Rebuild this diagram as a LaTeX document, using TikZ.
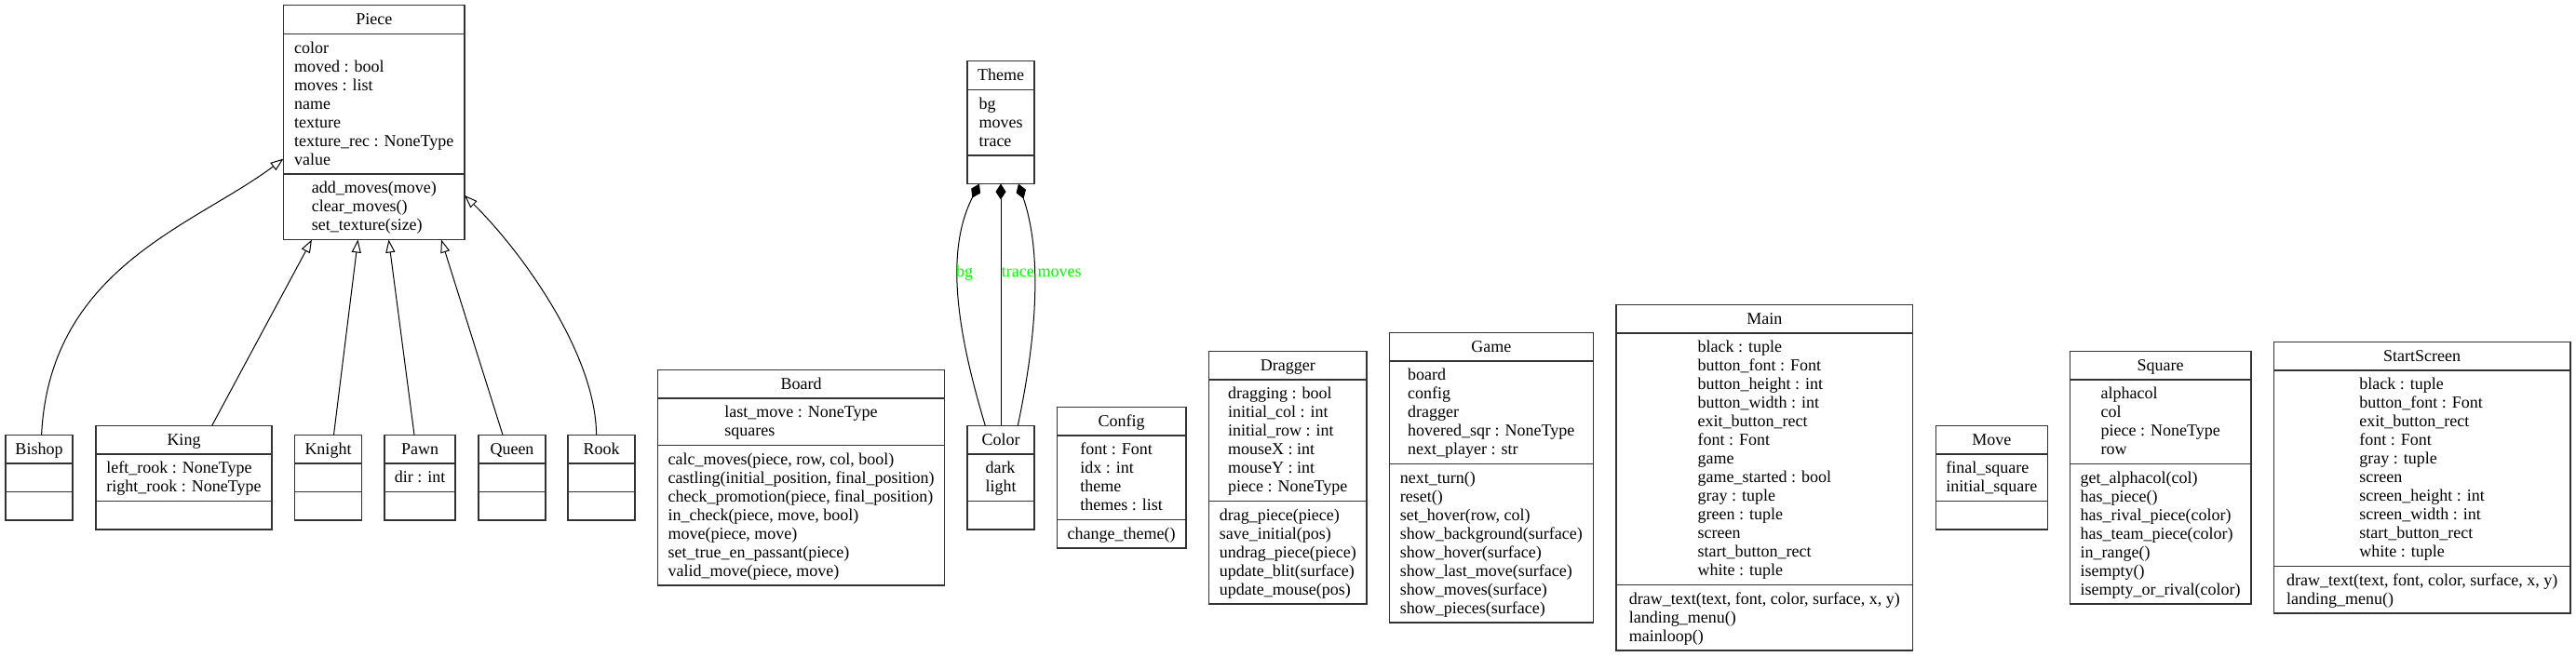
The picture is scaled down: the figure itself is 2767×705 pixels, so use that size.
\documentclass[tikz,border=0pt]{standalone}
\usepackage{fontspec}
\setmainfont{Liberation Serif}
\usetikzlibrary{arrows.meta}
\definecolor{lblgreen}{RGB}{0,255,0}
\newcommand{\ls}{\rule{0pt}{15pt}}
\tikzset{
  every node/.append style={font=\fontsize{18}{20}\selectfont},
  classbox/.style={draw=black!80, line width=1.3pt, inner sep=0pt, outer sep=0pt, anchor=north west},
  sepline/.style={draw=black!80, line width=1.3pt},
  ttl/.style={anchor=base, inner sep=0pt},
  blk/.style={anchor=north, align=left, inner sep=0pt},
  inh/.style={draw, line width=1pt, -{Triangle[open, length=14pt, width=10pt]}},
  comp/.style={draw, line width=1pt, -{Diamond[length=17pt, width=11pt]}},
  rolelbl/.style={text=lblgreen, anchor=base west, inner sep=0pt},
}
\newcommand{\umlbox}[7]{%
  \pgfmathsetmacro\umlW{#3-#2}%
  \pgfmathsetmacro\umlYh{#4+30.6}%
  \pgfmathsetmacro\umlYs{\umlYh+20*#5+10.6}%
  \pgfmathsetmacro\umlYb{\umlYs+20*#6+10.6}%
  \pgfmathsetmacro\umlH{\umlYb-#4}%
  \pgfmathsetmacro\umlXc{(#2+#3)/2}%
  \node[classbox, minimum width=\umlW pt, minimum height=\umlH pt] (#1) at (#2,#4) {};
  \draw[sepline] (#2,\umlYh) -- (#3,\umlYh);
  \draw[sepline] (#2,\umlYs) -- (#3,\umlYs);
  \node[ttl] (#1-title) at (\umlXc,#4+20.8) {#7};
}
\newcommand{\umlattrs}[2]{\node[blk] (#1-attrs) at (\umlXc,\umlYh+5.8) {\ls #2};}
\newcommand{\umlmeths}[2]{\node[blk] (#1-meths) at (\umlXc,\umlYs+5.8) {\ls #2};}
\begin{document}
\begin{tikzpicture}[x=1pt, y=-1pt]
\fill[white] (0,0) rectangle (2767,705);
\useasboundingbox (0,0) rectangle (2767,705);

% Piece
\umlbox{piece}{304.5}{499}{5.7}{7}{3}{Piece}
\umlattrs{piece}{color\\moved : bool\\moves : list\\name\\texture\\texture\_rec : NoneType\\value}
\umlmeths{piece}{add\_moves(move)\\clear\_moves()\\set\_texture(size)}

% subclasses
\umlbox{bishop}{6}{78}{467.3}{1}{1}{Bishop}
\umlbox{king}{103}{292}{457.3}{2}{1}{King}
\umlattrs{king}{left\_rook : NoneType\\right\_rook : NoneType}
\umlbox{knight}{316.5}{388.5}{467.3}{1}{1}{Knight}
\umlbox{pawn}{413}{489}{467.3}{1}{1}{Pawn}
\umlattrs{pawn}{dir : int}
\umlbox{queen}{514}{586}{467.3}{1}{1}{Queen}
\umlbox{rook}{610}{682}{467.3}{1}{1}{Rook}

% Board
\umlbox{board}{706.5}{1014.5}{397.3}{2}{7}{Board}
\umlattrs{board}{last\_move : NoneType\\squares}
\umlmeths{board}{calc\_moves(piece, row, col, bool)\\castling(initial\_position, final\_position)\\check\_promotion(piece, final\_position)\\in\_check(piece, move, bool)\\move(piece, move)\\set\_true\_en\_passant(piece)\\valid\_move(piece, move)}

% Theme and Color
\umlbox{theme}{1039}{1111}{65.7}{3}{1}{Theme}
\umlattrs{theme}{bg\\moves\\trace}
\umlbox{color}{1039}{1111}{457.3}{2}{1}{Color}
\umlattrs{color}{dark\\light}

% Config
\umlbox{config}{1135.3}{1274}{437.3}{4}{1}{Config}
\umlattrs{config}{font : Font\\idx : int\\theme\\themes : list}
\umlmeths{config}{change\_theme()}

% Dragger
\umlbox{dragger}{1298.5}{1468}{377.3}{6}{5}{Dragger}
\umlattrs{dragger}{dragging : bool\\initial\_col : int\\initial\_row : int\\mouseX : int\\mouseY : int\\piece : NoneType}
\umlmeths{dragger}{drag\_piece(piece)\\save\_initial(pos)\\undrag\_piece(piece)\\update\_blit(surface)\\update\_mouse(pos)}

% Game
\umlbox{game}{1492.3}{1711.3}{357.3}{5}{8}{Game}
\umlattrs{game}{board\\config\\dragger\\hovered\_sqr : NoneType\\next\_player : str}
\umlmeths{game}{next\_turn()\\reset()\\set\_hover(row, col)\\show\_background(surface)\\show\_hover(surface)\\show\_last\_move(surface)\\show\_moves(surface)\\show\_pieces(surface)}

% Main
\umlbox{main}{1736}{2054.7}{327.3}{13}{3}{Main}
\umlattrs{main}{black : tuple\\button\_font : Font\\button\_height : int\\button\_width : int\\exit\_button\_rect\\font : Font\\game\\game\_started : bool\\gray : tuple\\green : tuple\\screen\\start\_button\_rect\\white : tuple}
\umlmeths{main}{draw\_text(text, font, color, surface, x, y)\\landing\_menu()\\mainloop()}

% Move
\umlbox{move}{2079.3}{2199.3}{457.3}{2}{1}{Move}
\umlattrs{move}{final\_square\\initial\_square}

% Square
\umlbox{square}{2223.3}{2418}{377.3}{4}{7}{Square}
\umlattrs{square}{alphacol\\col\\piece : NoneType\\row}
\umlmeths{square}{get\_alphacol(col)\\has\_piece()\\has\_rival\_piece(color)\\has\_team\_piece(color)\\in\_range()\\isempty()\\isempty\_or\_rival(color)}

% StartScreen
\umlbox{startscreen}{2442.3}{2761}{367.3}{10}{2}{StartScreen}
\umlattrs{startscreen}{black : tuple\\button\_font : Font\\exit\_button\_rect\\font : Font\\gray : tuple\\screen\\screen\_height : int\\screen\_width : int\\start\_button\_rect\\white : tuple}
\umlmeths{startscreen}{draw\_text(text, font, color, surface, x, y)\\landing\_menu()}

% inheritance
\draw[inh] ([xshift=2.6pt]bishop.north) .. controls +(9,-180) and +(-96,72) .. ([yshift=-39pt]piece.west);
\draw[inh] ([xshift=30.2pt]king.north) -- ([xshift=-66.75pt]piece.south);
\draw[inh] ([xshift=6pt]knight.north) -- ([xshift=-17.25pt]piece.south);
\draw[inh] ([xshift=-6pt]pawn.north) -- ([xshift=15.75pt]piece.south);
\draw[inh] ([xshift=-10pt]queen.north) -- ([xshift=72.25pt]piece.south);
\draw[inh] ([xshift=-5.4pt]rook.north) .. controls +(-0.6,-87.3) and +(61,60) .. ([yshift=-78.3pt]piece.east);

% composition
\draw[comp] ([xshift=-16.7pt]color.north) .. controls +(-32.3,-107.3) and +(-36,70.5) .. ([xshift=-23pt]theme.south);
\draw[comp] (color.north) -- (theme.south);
\draw[comp] ([xshift=18.3pt]color.north) .. controls +(24.7,-117.3) and +(22,64.5) .. ([xshift=19pt]theme.south);

\node[rolelbl] (lbl-bg) at (1027,297.5) {bg};
\node[rolelbl] (lbl-trace) at (1075.7,297.5) {trace};
\node[rolelbl] (lbl-moves) at (1114.3,297.5) {moves};
\end{tikzpicture}
\end{document}
